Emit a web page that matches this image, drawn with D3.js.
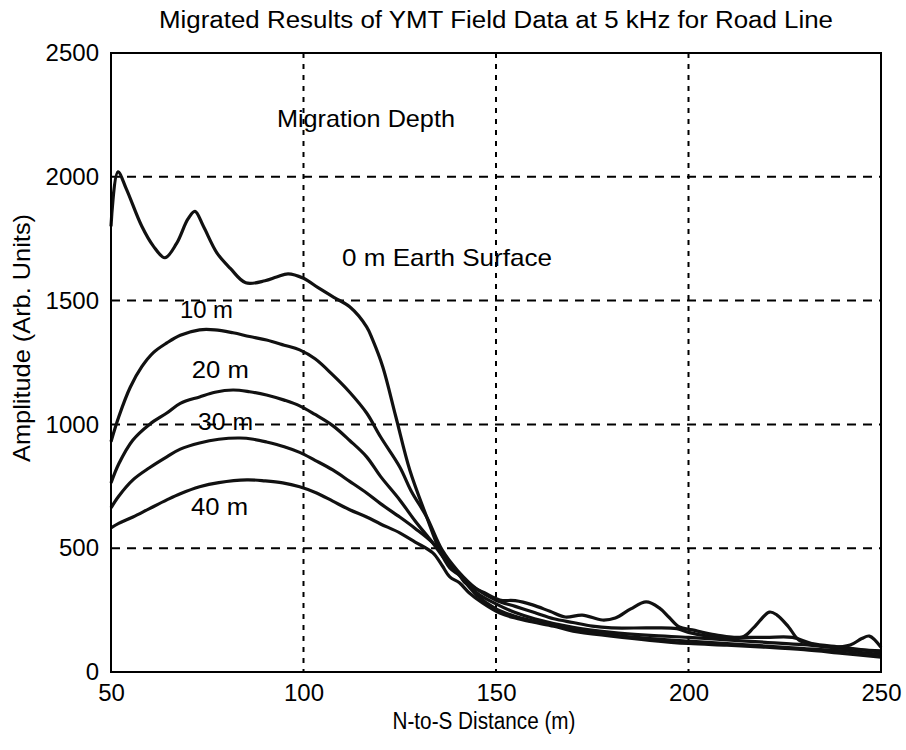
<!DOCTYPE html>
<html>
<head>
<meta charset="utf-8">
<script src="https://cdn.jsdelivr.net/npm/d3@7"></script>
<style>
  html, body { margin: 0; padding: 0; background: #fff; }
  svg { display: block; }
  text { font-family: "Liberation Sans", Arial, sans-serif; fill: #000; }
</style>
</head>
<body>
<svg id="chart" width="906" height="750"></svg>
<script>
// ---- Data ----
const xTicks = [50, 100, 150, 200, 250];
const yTicks = [0, 500, 1000, 1500, 2000, 2500];
const gridX = [100, 150, 200];
const gridY = [500, 1000, 1500, 2000];

const depth0 = [[50,1800],[51.8,2020],[54,1950],[58,1800],[61,1720],[64,1673],[67,1730],[70,1830],[71.8,1860],[74,1800],[77.5,1693],[81,1630],[85,1572],[90,1580],[93,1595],[96,1608],[100,1590],[104,1550],[108,1512],[112,1475],[116.4,1394],[118,1340],[120.6,1232],[124,1030],[127.6,816],[132,626],[135.3,493],[138,420],[140.5,390],[142,360],[144,343],[147,320],[151,291],[155,288],[159.5,271],[164,245],[168,222],[172.4,230],[177.6,210],[181,218],[185,255],[189,283],[192.4,259],[195,220],[197.6,182],[201,170],[207,150],[214,141],[217,180],[221,242],[223,230],[226,182],[228.7,129],[233,110],[237,101],[242,109],[245,135],[247,145],[250,100]];
const depth10 = [[50,930],[52,1030],[55,1150],[58,1233],[61,1290],[64.5,1329],[68,1360],[73,1382],[77,1382],[81.7,1370],[86,1355],[90.4,1341],[95,1320],[99,1301],[103,1265],[107.6,1200],[112,1130],[116.4,1046],[120,950],[125,828],[128,730],[132,626],[136,493],[140,410],[145,335],[150,290],[155,265],[160,240],[165,215],[170,200],[175,185],[180,178],[190,178],[197,175],[200,160],[205,145],[210,140],[220,140],[227,140],[232,115],[240,100],[250,80]];
const depth20 = [[50,763],[52,840],[55.7,937],[60,1000],[64.5,1046],[68,1085],[73,1111],[77,1130],[81.7,1139],[86,1132],[90.4,1119],[95,1098],[99,1075],[103,1040],[107.6,995],[112,935],[116.4,869],[120,790],[125,695],[129,610],[133.6,521],[137,450],[140,405],[145,320],[150,275],[155,240],[160,215],[170,180],[180,160],[190,148],[200,140],[210,130],[220,120],[230,110],[240,95],[250,85]];
const depth30 = [[50,663],[52,710],[55.7,776],[60,825],[64.5,869],[68,900],[73,925],[78,940],[83.5,945],[87,940],[90.4,929],[95,910],[99,887],[103,855],[107.6,816],[112,770],[116.4,723],[120,680],[125,626],[129,580],[133.6,521],[137,455],[140,400],[145,310],[150,255],[155,225],[160,205],[170,172],[180,150],[190,135],[200,125],[210,115],[220,105],[230,95],[240,85],[250,70]];
const depth40 = [[50,582],[52,600],[55.7,626],[60,660],[64.5,695],[68,720],[73,748],[78,765],[85.3,776],[90,772],[94.6,764],[99,748],[103.4,723],[107.6,690],[112,655],[116.4,626],[120,598],[125,562],[129,525],[133.6,481],[136,430],[138,384],[140.5,360],[143,320],[146.5,279],[151,238],[155,218],[159.5,202],[165,185],[170,165],[180,145],[190,128],[200,115],[210,108],[220,100],[230,90],[240,75],[250,60]];
const seriesList = [depth40, depth30, depth20, depth10, depth0];

const titleText = "Migrated Results of YMT Field Data at 5 kHz for Road Line";
const xLabelText = "N-to-S Distance (m)";
const yLabelText = "Amplitude (Arb. Units)";
const annotations = [
  {text: "Migration Depth", x: 93.1, y: 2201, len: 178},
  {text: "0 m Earth Surface", x: 110, y: 1640, len: 210},
  {text: "10 m", x: 67.9, y: 1430, len: 53},
  {text: "20 m", x: 71, y: 1187, len: 57},
  {text: "30 m", x: 72.6, y: 977, len: 55},
  {text: "40 m", x: 70.8, y: 634, len: 57}
];

// ---- Layout ----
const svg = d3.select("#chart");
const pLeft = 111, pRight = 881, pTop = 53, pBottom = 672;
const x = d3.scaleLinear().domain([50, 250]).range([pLeft, pRight]);
const y = d3.scaleLinear().domain([0, 2500]).range([pBottom, pTop]);

// Grid
svg.append("g").selectAll("line").data(gridY).join("line")
  .attr("x1", pLeft).attr("x2", pRight)
  .attr("y1", d => y(d)).attr("y2", d => y(d))
  .attr("stroke", "#000").attr("stroke-width", 2)
  .attr("stroke-dasharray", "9,7");
svg.append("g").selectAll("line").data(gridX).join("line")
  .attr("x1", d => x(d)).attr("x2", d => x(d))
  .attr("y1", pTop).attr("y2", pBottom)
  .attr("stroke", "#000").attr("stroke-width", 2)
  .attr("stroke-dasharray", "5,6");

// Curves
const line = d3.line().x(d => x(d[0])).y(d => y(d[1])).curve(d3.curveCatmullRom.alpha(0.5));
svg.append("g").selectAll("path").data(seriesList).join("path")
  .attr("d", line)
  .attr("fill", "none")
  .attr("stroke", "#111")
  .attr("stroke-width", 3.2)
  .attr("stroke-linejoin", "round");

// Frame
svg.append("rect")
  .attr("x", pLeft).attr("y", pTop)
  .attr("width", pRight - pLeft).attr("height", pBottom - pTop)
  .attr("fill", "none").attr("stroke", "#000").attr("stroke-width", 2);

// Axes
const xAxis = d3.axisBottom(x).tickValues(xTicks).tickSize(0).tickPadding(12).tickFormat(d3.format("d"));
const yAxis = d3.axisLeft(y).tickValues(yTicks).tickSize(0).tickPadding(12).tickFormat(d3.format("d"));
const gx = svg.append("g").attr("transform", `translate(0,${pBottom})`).call(xAxis);
const gy = svg.append("g").attr("transform", `translate(${pLeft},0)`).call(yAxis);
[gx, gy].forEach(g => {
  g.select(".domain").remove();
  g.selectAll("text").attr("font-size", 24).attr("font-family", "Liberation Sans, Arial, sans-serif").attr("fill", "#000");
});

// Title & axis labels
svg.append("text").attr("x", (pLeft + pRight) / 2).attr("y", 28)
  .attr("text-anchor", "middle").attr("font-size", 23)
  .attr("textLength", 674).attr("lengthAdjust", "spacingAndGlyphs")
  .text(titleText);
svg.append("text").attr("x", 484).attr("y", 729)
  .attr("text-anchor", "middle").attr("font-size", 23)
  .attr("textLength", 183).attr("lengthAdjust", "spacingAndGlyphs")
  .text(xLabelText);
svg.append("text").attr("transform", "translate(30,338) rotate(-90)")
  .attr("text-anchor", "middle").attr("font-size", 24)
  .attr("textLength", 248).attr("lengthAdjust", "spacingAndGlyphs")
  .text(yLabelText);

// Annotations
svg.append("g").selectAll("text").data(annotations).join("text")
  .attr("x", d => x(d.x)).attr("y", d => y(d.y))
  .attr("font-size", 24)
  .attr("textLength", d => d.len).attr("lengthAdjust", "spacingAndGlyphs")
  .text(d => d.text);
</script>
</body>
</html>
